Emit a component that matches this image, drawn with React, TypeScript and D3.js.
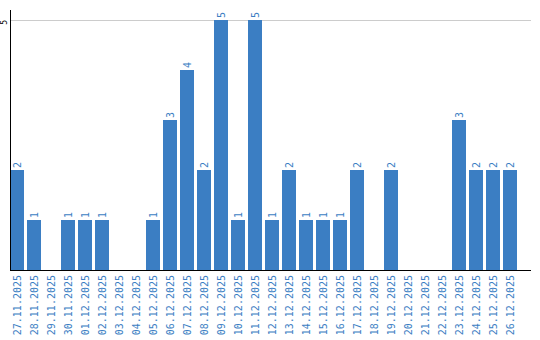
import React from "react";
import * as d3 from "d3";

const dates = [
  "27.11.2025", "28.11.2025", "29.11.2025", "30.11.2025", "01.12.2025",
  "02.12.2025", "03.12.2025", "04.12.2025", "05.12.2025", "06.12.2025",
  "07.12.2025", "08.12.2025", "09.12.2025", "10.12.2025", "11.12.2025",
  "12.12.2025", "13.12.2025", "14.12.2025", "15.12.2025", "16.12.2025",
  "17.12.2025", "18.12.2025", "19.12.2025", "20.12.2025", "21.12.2025",
  "22.12.2025", "23.12.2025", "24.12.2025", "25.12.2025", "26.12.2025",
];
const counts = [2, 1, 0, 1, 1, 1, 0, 0, 1, 3, 4, 2, 5, 1, 5, 1, 2, 1, 1, 1, 2, 0, 2, 0, 0, 0, 3, 2, 2, 2];
const yTicks = [5];

const W = 540;
const H = 340;
const left = 10;
const right = 531;
const top = 10;
const bottom = 270;
const BLUE = "#3b7ec3";
const FONT = "'DejaVu Sans Mono', monospace";

export default function App() {
  const x = d3.scaleBand<string>().domain(dates).range([left, 517]).paddingInner(3 / 17).paddingOuter(0);
  const y = d3.scaleLinear().domain([0, 5]).range([bottom, 20]);
  const bw = x.bandwidth();
  return (
    <svg width={W} height={H} style={{ position: "absolute", left: 0, top: 0, display: "block" }}>
      {yTicks.map((t) => (
        <g key={t}>
          <line x1={left} x2={right} y1={y(t)} y2={y(t)} stroke="#cccccc" strokeWidth={1} shapeRendering="crispEdges" />
          <text transform={`translate(7,${y(t)}) rotate(-90)`} textAnchor="end" fontFamily={FONT} fontSize={8} fill="#000">
            {t}
          </text>
        </g>
      ))}
      {dates.map((d, i) => {
        const v = counts[i];
        const cx = (x(d) as number) + bw / 2;
        return (
          <g key={d}>
            {v > 0 && (
              <>
                <rect x={x(d)} y={y(v)} width={bw} height={bottom - y(v)} fill={BLUE} shapeRendering="crispEdges" />
                <text transform={`translate(${cx},${y(v) - 2}) rotate(-90)`} textAnchor="start" dy="0.35em" fontFamily={FONT} fontSize={10} fill={BLUE}>
                  {v}
                </text>
              </>
            )}
            <text transform={`translate(${cx},275) rotate(-90)`} textAnchor="end" dy="0.35em" fontFamily={FONT} fontSize={10} fill={BLUE}>
              {d}
            </text>
          </g>
        );
      })}
      <line x1={left + 0.5} x2={left + 0.5} y1={top} y2={bottom} stroke="#000" strokeWidth={1} />
      <line x1={left} x2={right} y1={bottom + 0.5} y2={bottom + 0.5} stroke="#000" strokeWidth={1} />
    </svg>
  );
}
